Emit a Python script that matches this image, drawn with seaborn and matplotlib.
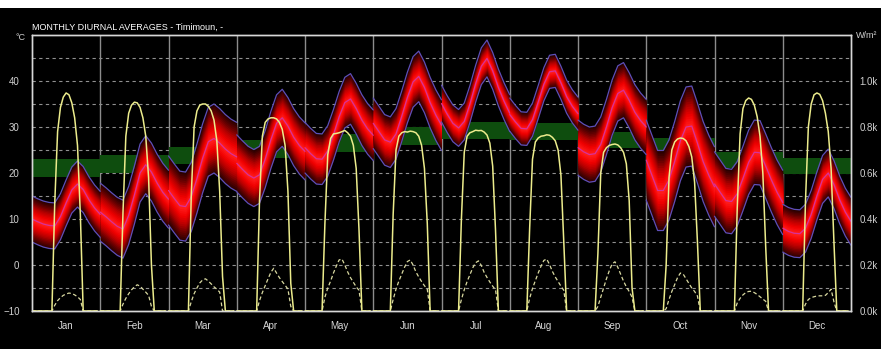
import numpy as np
import pandas as pd
import matplotlib
matplotlib.use("Agg")
import matplotlib.pyplot as plt
import seaborn as sns
from matplotlib.colors import LinearSegmentedColormap
from matplotlib.patches import Rectangle

months = ["Jan", "Feb", "Mar", "Apr", "May", "Jun",
          "Jul", "Aug", "Sep", "Oct", "Nov", "Dec"]

# hourly mean dry bulb temperature (deg C), read every 2 hours (0..24)
temp_hours = [0, 2, 4, 6, 8, 10, 12, 14, 16, 18, 20, 22, 24]
t_jan = [10.0, 9.4, 8.9, 8.6, 8.5, 10.5, 13.5, 16.3, 17.6, 16.4, 14.2, 12.4, 11.0]
t_feb = [11.5, 10.5, 9.4, 8.4, 7.8, 10.8, 15.2, 20.0, 21.8, 20.2, 17.8, 15.8, 14.3]
t_mar = [16.2, 14.5, 12.9, 12.7, 14.8, 18.8, 23.2, 26.8, 27.5, 26.5, 25.2, 24.2, 23.5]
t_apr = [22.1, 20.8, 19.6, 18.9, 19.6, 23.0, 27.2, 30.8, 32.0, 30.2, 27.8, 26.0, 24.7]
t_may = [25.5, 24.2, 23.1, 23.0, 24.8, 28.3, 32.2, 35.3, 36.1, 34.0, 31.5, 29.6, 28.2]
t_jun = [30.8, 29.0, 27.2, 26.7, 28.5, 32.3, 36.4, 39.8, 41.0, 38.6, 35.3, 32.6, 30.4]
t_jul = [35.1, 32.8, 30.8, 29.8, 31.2, 35.0, 39.4, 43.2, 44.9, 42.2, 38.6, 35.6, 33.0]
t_aug = [32.7, 31.1, 29.7, 29.6, 31.6, 35.4, 39.3, 42.0, 42.2, 39.6, 36.6, 34.5, 32.9]
t_sep = [25.5, 24.6, 24.0, 24.2, 26.2, 30.0, 34.2, 37.3, 38.0, 35.8, 33.2, 31.4, 30.0]
t_oct = [22.8, 19.5, 16.2, 16.2, 18.5, 22.5, 27.0, 30.0, 30.2, 26.5, 22.5, 19.5, 17.0]
t_nov = [17.6, 15.8, 14.0, 13.8, 15.5, 18.8, 22.3, 24.5, 24.4, 21.5, 18.5, 15.8, 13.6]
t_dec = [8.0, 7.3, 6.9, 6.8, 8.0, 11.0, 15.0, 18.6, 20.0, 17.5, 14.2, 11.5, 9.5]

# half width of the temperature band per month
band_half = [5.0, 6.3, 7.5, 6.2, 5.5, 5.5, 4.0, 3.6, 6.0, 8.7, 7.0, 5.2]

# comfort zone per month (deg C)
comfort_lo = [19.1, 20.1, 22.0, 23.3, 24.5, 26.1, 27.4, 27.2, 25.4, 24.0, 21.1, 19.8]
comfort_hi = [23.0, 23.9, 25.7, 27.2, 28.5, 30.0, 31.1, 30.9, 28.9, 27.6, 24.6, 23.3]

# hourly solar radiation (W/m2), hours 0..23
rad_hours = list(range(24))
dir_jan = [0, 0, 0, 0, 0, 0, 0, 0, 470, 780, 885, 930, 948, 940, 905, 840, 720, 420, 0, 0, 0, 0, 0, 0]
dir_feb = [0, 0, 0, 0, 0, 0, 0, 0, 430, 760, 860, 895, 908, 905, 885, 840, 760, 580, 200, 0, 0, 0, 0, 0]
dir_mar = [0, 0, 0, 0, 0, 0, 0, 0, 500, 800, 870, 895, 900, 900, 890, 870, 830, 740, 520, 150, 0, 0, 0, 0]
dir_apr = [0, 0, 0, 0, 0, 0, 0, 0, 480, 760, 820, 835, 840, 840, 835, 820, 790, 720, 520, 120, 0, 0, 0, 0]
dir_may = [0, 0, 0, 0, 0, 0, 0, 380, 680, 750, 770, 772, 775, 780, 785, 775, 760, 720, 620, 350, 0, 0, 0, 0]
dir_jun = [0, 0, 0, 0, 0, 0, 0, 420, 700, 760, 775, 780, 778, 782, 780, 775, 760, 720, 620, 380, 0, 0, 0, 0]
dir_jul = [0, 0, 0, 0, 0, 0, 0, 400, 690, 760, 775, 780, 786, 784, 785, 778, 765, 730, 630, 350, 0, 0, 0, 0]
dir_aug = [0, 0, 0, 0, 0, 0, 0, 360, 660, 735, 752, 760, 762, 766, 764, 755, 740, 700, 590, 300, 0, 0, 0, 0]
dir_sep = [0, 0, 0, 0, 0, 0, 0, 250, 600, 690, 710, 720, 724, 726, 722, 710, 690, 640, 480, 100, 0, 0, 0, 0]
dir_oct = [0, 0, 0, 0, 0, 0, 0, 200, 580, 700, 735, 748, 752, 750, 740, 715, 670, 560, 300, 0, 0, 0, 0, 0]
dir_nov = [0, 0, 0, 0, 0, 0, 0, 0, 450, 770, 880, 915, 926, 920, 895, 845, 760, 600, 280, 0, 0, 0, 0, 0]
dir_dec = [0, 0, 0, 0, 0, 0, 0, 0, 480, 800, 900, 940, 948, 942, 915, 860, 780, 620, 300, 0, 0, 0, 0, 0]

dif_jan = [0, 0, 0, 0, 0, 0, 0, 0, 25, 45, 58, 68, 74, 78, 76, 70, 62, 50, 0, 0, 0, 0, 0, 0]
dif_feb = [0, 0, 0, 0, 0, 0, 0, 0, 30, 55, 75, 92, 105, 114, 108, 95, 82, 68, 20, 0, 0, 0, 0, 0]
dif_mar = [0, 0, 0, 0, 0, 0, 0, 0, 40, 75, 100, 122, 135, 140, 130, 118, 105, 95, 82, 0, 0, 0, 0, 0]
dif_apr = [0, 0, 0, 0, 0, 0, 0, 0, 45, 80, 110, 140, 168, 186, 165, 145, 128, 112, 95, 20, 0, 0, 0, 0]
dif_may = [0, 0, 0, 0, 0, 0, 0, 60, 100, 130, 165, 195, 222, 226, 200, 170, 145, 125, 105, 90, 0, 0, 0, 0]
dif_jun = [0, 0, 0, 0, 0, 0, 0, 50, 95, 130, 160, 190, 215, 222, 200, 170, 148, 128, 110, 95, 0, 0, 0, 0]
dif_jul = [0, 0, 0, 0, 0, 0, 0, 50, 92, 128, 158, 188, 210, 218, 198, 168, 146, 126, 108, 92, 0, 0, 0, 0]
dif_aug = [0, 0, 0, 0, 0, 0, 0, 55, 98, 132, 165, 195, 220, 226, 202, 172, 148, 128, 108, 90, 0, 0, 0, 0]
dif_sep = [0, 0, 0, 0, 0, 0, 0, 20, 60, 100, 140, 175, 205, 214, 190, 160, 130, 105, 85, 60, 0, 0, 0, 0]
dif_oct = [0, 0, 0, 0, 0, 0, 0, 10, 50, 85, 115, 145, 165, 160, 140, 120, 100, 85, 65, 0, 0, 0, 0, 0]
dif_nov = [0, 0, 0, 0, 0, 0, 0, 0, 35, 55, 70, 80, 85, 86, 80, 72, 62, 52, 42, 0, 0, 0, 0, 0]
dif_dec = [0, 0, 0, 0, 0, 0, 0, 0, 30, 50, 58, 62, 65, 66, 66, 68, 80, 95, 40, 0, 0, 0, 0, 0]

temp_series = [t_jan, t_feb, t_mar, t_apr, t_may, t_jun,
               t_jul, t_aug, t_sep, t_oct, t_nov, t_dec]
dir_series = [dir_jan, dir_feb, dir_mar, dir_apr, dir_may, dir_jun,
              dir_jul, dir_aug, dir_sep, dir_oct, dir_nov, dir_dec]
dif_series = [dif_jan, dif_feb, dif_mar, dif_apr, dif_may, dif_jun,
              dif_jul, dif_aug, dif_sep, dif_oct, dif_nov, dif_dec]

# long tables, x = month index + fraction of day
rows = []
for m, vals in enumerate(temp_series):
    for h, v in zip(temp_hours, vals):
        rows.append({"month": m, "x": m + h / 24, "mean": v,
                     "lo": v - band_half[m], "hi": v + band_half[m]})
temp_df = pd.DataFrame(rows)

rows = []
for m in range(12):
    for h in rad_hours:
        rows.append({"month": m, "x": m + h / 24,
                     "direct": dir_series[m][h], "diffuse": dif_series[m][h]})
rad_df = pd.DataFrame(rows)

sns.set_style("dark")
plt.rcParams["font.family"] = ["Liberation Sans", "DejaVu Sans"]

fig, ax = plt.subplots(figsize=(8.81, 3.49), dpi=100)
fig.patch.set_facecolor("black")
ax.set_facecolor("black")
fig.subplots_adjust(left=32 / 881, right=851 / 881, top=1 - 35 / 349, bottom=1 - 311 / 349)

# white strip left over from the page crop
fig.add_artist(Rectangle((0, 1 - 8 / 349), 1, 8 / 349, transform=fig.transFigure,
                         facecolor="white", edgecolor="none"))

# grid
for v in range(-5, 50, 5):
    ax.axhline(v, color="#909090", lw=0.8, ls=(0, (3, 3)), zorder=1)
for m in range(1, 12):
    ax.axvline(m, color="#8c8c8c", lw=1.0, zorder=1)

# comfort zone
for m in range(12):
    ax.fill_between([m, m + 1], comfort_lo[m], comfort_hi[m],
                    color="#0e4d0e", lw=0, zorder=2)

# temperature band with red gradient, dark at the edges
cmap = LinearSegmentedColormap.from_list(
    "band", ["#2a0000", "#6a0000", "#b80000", "#f00000", "#ff1a1a"])
levels = np.linspace(1.0, 0.08, 16)
for m, g in temp_df.groupby("month"):
    for i, f in enumerate(levels):
        ax.fill_between(g["x"], g["mean"] - f * band_half[m], g["mean"] + f * band_half[m],
                        color=cmap(i / (len(levels) - 1)), lw=0, zorder=3)

sns.lineplot(data=temp_df, x="x", y="hi", units="month", estimator=None,
             color="#5e4fb8", lw=0.9, ax=ax, legend=False, zorder=4)
sns.lineplot(data=temp_df, x="x", y="lo", units="month", estimator=None,
             color="#5e4fb8", lw=0.9, ax=ax, legend=False, zorder=4)
sns.lineplot(data=temp_df, x="x", y="mean", units="month", estimator=None,
             color="#d8309a", lw=0.9, ax=ax, legend=False, zorder=4)

ax.set_xlim(0, 12)
ax.set_ylim(-10, 50)
ax.set_xlabel("")
ax.set_ylabel("")
ax.set_yticks(range(-10, 41, 10))
ax.set_xticks([m + 0.5 for m in range(12)])
ax.set_xticklabels(months)
ax.set_xticks(np.arange(0, 12.01, 0.25), minor=True)
ax.tick_params(axis="x", which="major", length=0, pad=7, labelsize=7, labelcolor="#d8d8d8")
ax.tick_params(axis="x", which="minor", length=3, color="#d8d8d8", width=0.8, direction="out")
ax.tick_params(axis="y", length=0, pad=9, labelsize=7, labelcolor="#d0d0d0")
ax.grid(False)
for s in ax.spines.values():
    s.set_color("#d8d8d8")
    s.set_linewidth(1.0)

# radiation on the right axis
ax2 = ax.twinx()
sns.lineplot(data=rad_df, x="x", y="diffuse", units="month", estimator=None,
             color="#d8d8a0", lw=0.9, ls=(0, (3, 2)), ax=ax2, legend=False)
sns.lineplot(data=rad_df, x="x", y="direct", units="month", estimator=None,
             color="#ecec8c", lw=1.1, ax=ax2, legend=False)
ax2.set_ylim(0, 1200)
ax2.set_xlim(0, 12)
ax2.set_ylabel("")
ax2.set_yticks(range(0, 1001, 200))
ax2.set_yticklabels([f"{v / 1000:.1f}k" for v in range(0, 1001, 200)])
ax2.tick_params(axis="y", length=0, pad=6, labelsize=7, labelcolor="#d0d0d0")
ax2.grid(False)
for s in ax2.spines.values():
    s.set_color("#d8d8d8")
    s.set_linewidth(1.0)

ax.text(0, 1.012, "MONTHLY DIURNAL AVERAGES - Timimoun, -", transform=ax.transAxes,
        color="white", fontsize=6.5, ha="left", va="bottom")
fig.text(16 / 881, 1 - 38 / 349, "°C", color="#d0d0d0", fontsize=6.5, va="center")
fig.text(856 / 881, 1 - 35 / 349, "W/m²", color="#d0d0d0", fontsize=6.5, va="center")

fig.savefig("out.png", dpi=100, facecolor=fig.get_facecolor())
